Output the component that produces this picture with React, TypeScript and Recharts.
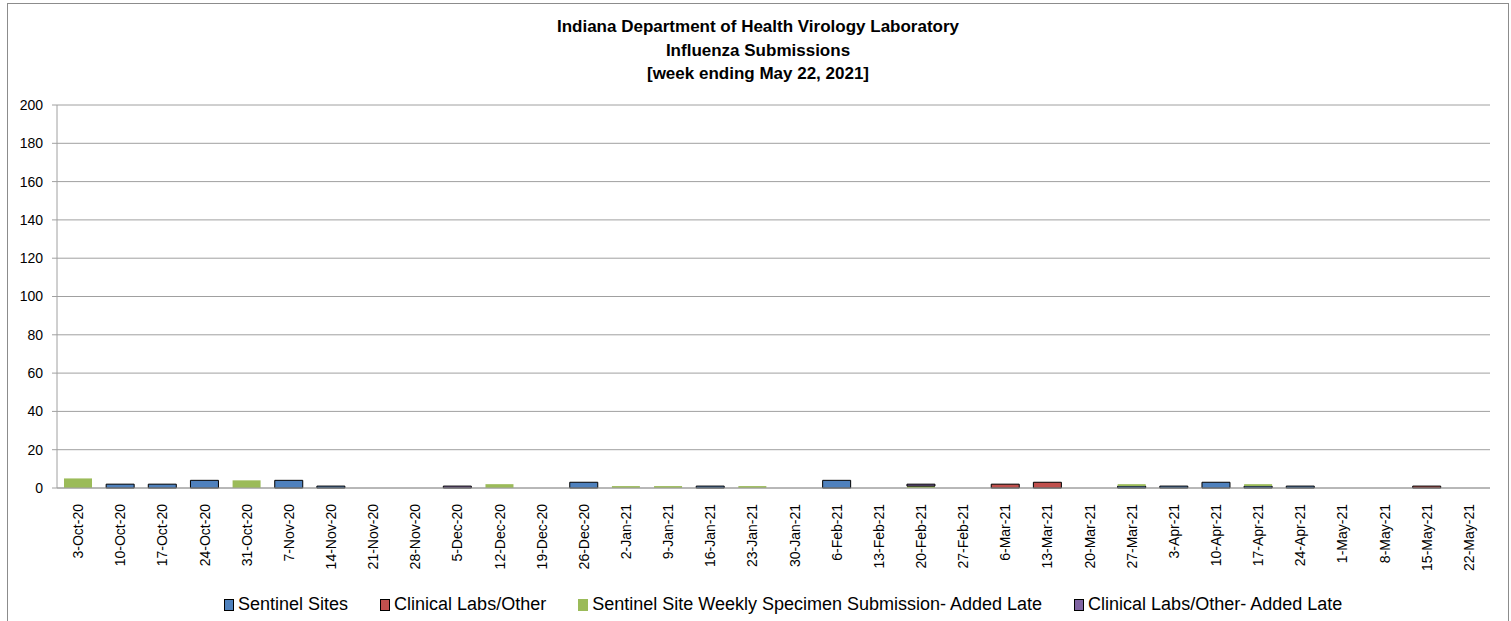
import React from "react";
import { BarChart, Bar, XAxis, YAxis, CartesianGrid, Legend } from "recharts";

const weeks = [
  "3-Oct-20", "10-Oct-20", "17-Oct-20", "24-Oct-20", "31-Oct-20", "7-Nov-20", "14-Nov-20",
  "21-Nov-20", "28-Nov-20", "5-Dec-20", "12-Dec-20", "19-Dec-20", "26-Dec-20", "2-Jan-21",
  "9-Jan-21", "16-Jan-21", "23-Jan-21", "30-Jan-21", "6-Feb-21", "13-Feb-21", "20-Feb-21",
  "27-Feb-21", "6-Mar-21", "13-Mar-21", "20-Mar-21", "27-Mar-21", "3-Apr-21", "10-Apr-21",
  "17-Apr-21", "24-Apr-21", "1-May-21", "8-May-21", "15-May-21", "22-May-21",
];
const sentinelSites = [0, 2, 2, 4, 0, 4, 1, 0, 0, 0, 0, 0, 3, 0, 0, 1, 0, 0, 4, 0, 0, 0, 0, 0, 0, 1, 1, 3, 1, 1, 0, 0, 0, 0];
const clinicalLabs = [0, 0, 0, 0, 0, 0, 0, 0, 0, 0, 0, 0, 0, 0, 0, 0, 0, 0, 0, 0, 0, 0, 2, 3, 0, 0, 0, 0, 0, 0, 0, 0, 1, 0];
const sentinelLate = [5, 0, 0, 0, 4, 0, 0, 0, 0, 0, 2, 0, 0, 1, 1, 0, 1, 0, 0, 0, 1, 0, 0, 0, 0, 1, 0, 0, 1, 0, 0, 0, 0, 0];
const clinicalLate = [0, 0, 0, 0, 0, 0, 0, 0, 0, 1, 0, 0, 0, 0, 0, 0, 0, 0, 0, 0, 1, 0, 0, 0, 0, 0, 0, 0, 0, 0, 0, 0, 0, 0];
const yTicks = [0, 20, 40, 60, 80, 100, 120, 140, 160, 180, 200];
const titleLines = [
  "Indiana Department of Health Virology Laboratory",
  "Influenza Submissions",
  "[week ending May 22, 2021]",
];

const data = weeks.map((w, i) => ({
  week: w,
  sentinel: sentinelSites[i],
  clinical: clinicalLabs[i],
  sentinelLate: sentinelLate[i],
  clinicalLate: clinicalLate[i],
}));

const series = [
  { key: "sentinel", name: "Sentinel Sites", color: "#4F81BD", stroke: "#000000" },
  { key: "clinical", name: "Clinical Labs/Other", color: "#C0504D", stroke: "#000000" },
  { key: "sentinelLate", name: "Sentinel Site Weekly Specimen Submission- Added Late", color: "#9BBB59", stroke: "none" },
  { key: "clinicalLate", name: "Clinical Labs/Other- Added Late", color: "#8064A2", stroke: "#000000" },
];

const FONT = "'Liberation Sans', Arial, sans-serif";

const XTick = (props: any) => {
  const { x, y, payload } = props;
  return (
    <text
      x={0}
      y={0}
      transform={`translate(${x + 5},${y + 8}) rotate(-90)`}
      textAnchor="end"
      fontSize={14}
      fontFamily={FONT}
      fill="#000"
    >
      {payload.value}
    </text>
  );
};

const LegendContent = () => (
  <div
    style={{
      display: "flex",
      justifyContent: "flex-start",
      paddingLeft: 216,
      fontFamily: FONT,
      fontSize: 18,
      color: "#000",
      alignItems: "center",
      height: 33,
      whiteSpace: "nowrap",
    }}
  >
    {series.map((s) => (
      <div key={s.key} style={{ display: "flex", alignItems: "center", marginRight: 32 }}>
        <span
          style={{
            display: "inline-block",
            width: 8,
            height: 10,
            background: s.color,
            border: s.stroke === "none" ? "1px solid " + s.color : "1px solid #000",
            marginRight: 4,
          }}
        />
        <span>{s.name}</span>
      </div>
    ))}
  </div>
);

export default function App() {
  return (
    <div
      style={{
        position: "absolute",
        left: 7,
        top: 3,
        width: 1500,
        height: 640,
        border: "1px solid #8c8c8c",
        background: "#fff",
      }}
    >
      {titleLines.map((t, i) => (
        <div
          key={i}
          style={{
            position: "absolute",
            left: 0,
            width: 1500,
            top: 13 + i * 23.5,
            textAlign: "center",
            fontFamily: FONT,
            fontWeight: "bold",
            fontSize: 17,
            color: "#000",
            lineHeight: "20px",
          }}
        >
          {t}
        </div>
      ))}
      <BarChart
        width={1500}
        height={617}
        data={data}
        margin={{ top: 101, right: 18, bottom: 0, left: 0 }}
        barSize={28}
      >
        <CartesianGrid vertical={false} stroke="#a0a0a0" strokeWidth={1} />
        <XAxis
          dataKey="week"
          interval={0}
          height={100}
          tick={<XTick />}
          tickLine={false}
          axisLine={{ stroke: "#a0a0a0" }}
        />
        <YAxis
          width={49}
          domain={[0, 200]}
          ticks={yTicks}
          interval={0}
          tickSize={5}
          tickMargin={9}
          tickLine={{ stroke: "#a0a0a0" }}
          axisLine={{ stroke: "#a0a0a0" }}
          tick={{ fontSize: 14, fontFamily: FONT, fill: "#000" }}
        />
        <Legend verticalAlign="bottom" height={33} content={<LegendContent />} />
        {series.map((s) => (
          <Bar
            key={s.key}
            dataKey={s.key}
            name={s.name}
            stackId="a"
            fill={s.color}
            stroke={s.stroke}
            strokeWidth={1}
            isAnimationActive={false}
          />
        ))}
      </BarChart>
    </div>
  );
}
